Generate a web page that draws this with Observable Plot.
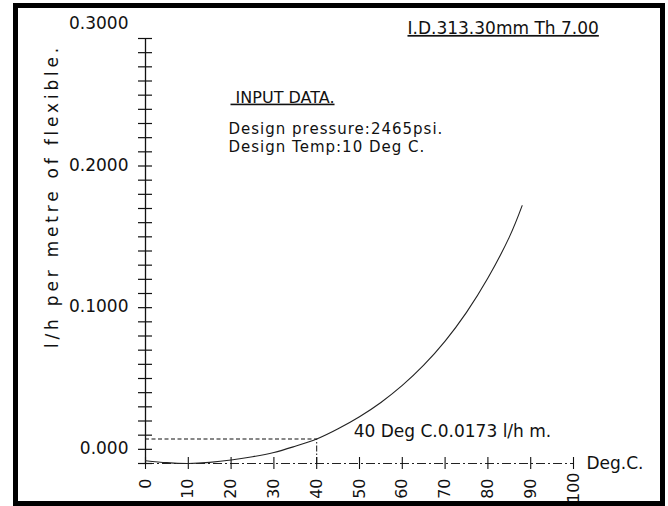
<!DOCTYPE html>
<html><head><meta charset="utf-8">
<script src="https://cdn.jsdelivr.net/npm/d3@7"></script>
<script src="https://cdn.jsdelivr.net/npm/@observablehq/plot@0.6"></script>
<style>
html,body{margin:0;padding:0;background:#fff;}
#wrap{position:relative;width:668px;height:506px;overflow:hidden;}
#frame{position:absolute;left:13px;top:3px;width:652px;height:503px;border:5px solid #000;box-sizing:border-box;pointer-events:none;}
</style></head><body>
<div id="wrap"><div id="chart"></div><div id="frame"></div></div>
<script>
// Temperature (Deg C) and leak rate (l/h per metre of flexible)
const temps     = [0,     5,      10,  15,     20,     25,     30,     35,     40,     45,     50,    55,     60,     65,     70,     75,     80,     85,     88];
const leakRates = [0.002, 0.0006, 0.0, 0.0008, 0.0025, 0.0048, 0.0078, 0.0122, 0.0173, 0.0245, 0.033, 0.0431, 0.0551, 0.0694, 0.0864, 0.1067, 0.1309, 0.1598, 0.182];

const xTickValues = [0, 10, 20, 30, 40, 50, 60, 70, 80, 90, 100];
const xLabelValues = [0, 10, 20, 30, 40, 50, 60, 70, 80, 90];
const xLastLabel = [100];
const yMinorTicks = d3.range(0, 31).map(i => i / 100);
const yLabelValues = [0, 0.1, 0.2, 0.3];
const yLabelTexts = ["0.000", "0.1000", "0.2000", "0.3000"];

const markerTemp = [40];
const markerRate = [0.0173];

const titleText = "I.D.313.30mm Th 7.00";
const inputHeading = "INPUT DATA.";
const inputLines = ["Design pressure:2465psi.", "Design Temp:10 Deg C."];
const markerLabel = "40 Deg C.0.0173 l/h m.";
const xUnit = "Deg.C.";
const yTitle = "l/h per metre of flexible.";

const curve = temps.map((t, i) => ({t, r: leakRates[i]}));
const marker = markerTemp.map((t, i) => ({t, r: markerRate[i]}));

const ink = "#111";
const plot = Plot.plot({
  width: 668, height: 506,
  marginLeft: 145, marginRight: 95, marginTop: 38, marginBottom: 43,
  style: {fontFamily: "'DejaVu Sans', sans-serif", fontSize: "17px", color: ink, background: "transparent", overflow: "visible"},
  x: {domain: [0, 100], axis: null},
  y: {domain: [0, 0.3], axis: null},
  marks: [
    // x axis line (dash-dot)
    Plot.ruleY([0], {stroke: "#222", strokeWidth: 1.1, strokeDasharray: "9,3,2,3"}),
    // y axis line
    Plot.ruleX([0], {stroke: ink, strokeWidth: 1.3}),
    // y crossing ticks
    Plot.axisY(yMinorTicks, {label: null, tickSize: 14, dx: 7, tickFormat: () => "", stroke: ink, strokeWidth: 1.2}),
    // y labels (offset as in the original)
    Plot.axisY(yLabelValues, {label: null, tickSize: 0, tickPadding: 17, dy: -15, fontSize: 17, fill: ink,
      tickFormat: d => yLabelTexts[yLabelValues.indexOf(d)]}),
    // x crossing ticks
    Plot.axisX(xTickValues, {label: null, tickSize: 12, dy: -6, tickFormat: () => "", stroke: ink, strokeWidth: 1.1}),
    // x labels rotated
    Plot.axisX(xLabelValues, {label: null, tickSize: 0, tickPadding: 15, tickRotate: -90, fontSize: 16, fill: ink, tickFormat: d => String(d)}),
    Plot.axisX(xLastLabel, {label: null, tickSize: 0, tickPadding: 9, tickRotate: -90, fontSize: 16, fill: ink, tickFormat: d => String(d)}),
    Plot.text([xUnit], {frameAnchor: "bottom-right", dx: 13, textAnchor: "start", lineAnchor: "middle", fill: ink}),
    // marker lines
    Plot.ruleY(marker, {y: "r", x1: 0, x2: "t", stroke: ink, strokeWidth: 1.1, strokeDasharray: "4,2.5"}),
    Plot.ruleX(marker, {x: "t", y1: 0, y2: "r", stroke: ink, strokeWidth: 1, strokeDasharray: "6,2,1.5,2"}),
    // curve
    Plot.line(curve, {x: "t", y: "r", curve: "natural", stroke: "#222", strokeWidth: 1.1}),
    Plot.text(marker, {x: "t", y: "r", text: () => markerLabel, dx: 37, dy: -7, textAnchor: "start", lineAnchor: "middle", fill: ink}),
    // annotations
    Plot.text([titleText], {frameAnchor: "top-left", dx: 262, dy: -10, textAnchor: "start", lineAnchor: "middle", fill: ink}),
    Plot.text([inputHeading], {frameAnchor: "top-left", dx: 85, dy: 59, textAnchor: "start", lineAnchor: "middle", fontSize: 16, fill: ink, text: d => "\u00a0" + d}),
    Plot.text([inputLines[0]], {frameAnchor: "top-left", dx: 83, dy: 91, textAnchor: "start", lineAnchor: "middle", fontSize: 15, fill: ink}),
    Plot.text([inputLines[1]], {frameAnchor: "top-left", dx: 83, dy: 108.5, textAnchor: "start", lineAnchor: "middle", fontSize: 15, fill: ink}),
    Plot.text([yTitle], {frameAnchor: "left", rotate: -90, dx: -93, dy: -55, textAnchor: "middle", lineAnchor: "middle", fill: ink})
  ]
});
document.getElementById("chart").appendChild(plot);

const svg = d3.select(plot);
svg.selectAll("text").filter(function() { return this.textContent === titleText || this.textContent === "\u00a0" + inputHeading; })
  .style("text-decoration", "underline");
svg.selectAll("text").filter(function() { return this.textContent === yTitle; })
  .style("letter-spacing", "3.8px");
svg.selectAll("text").filter(function() { return inputLines.includes(this.textContent); })
  .style("letter-spacing", "1px");
</script>
</body></html>
